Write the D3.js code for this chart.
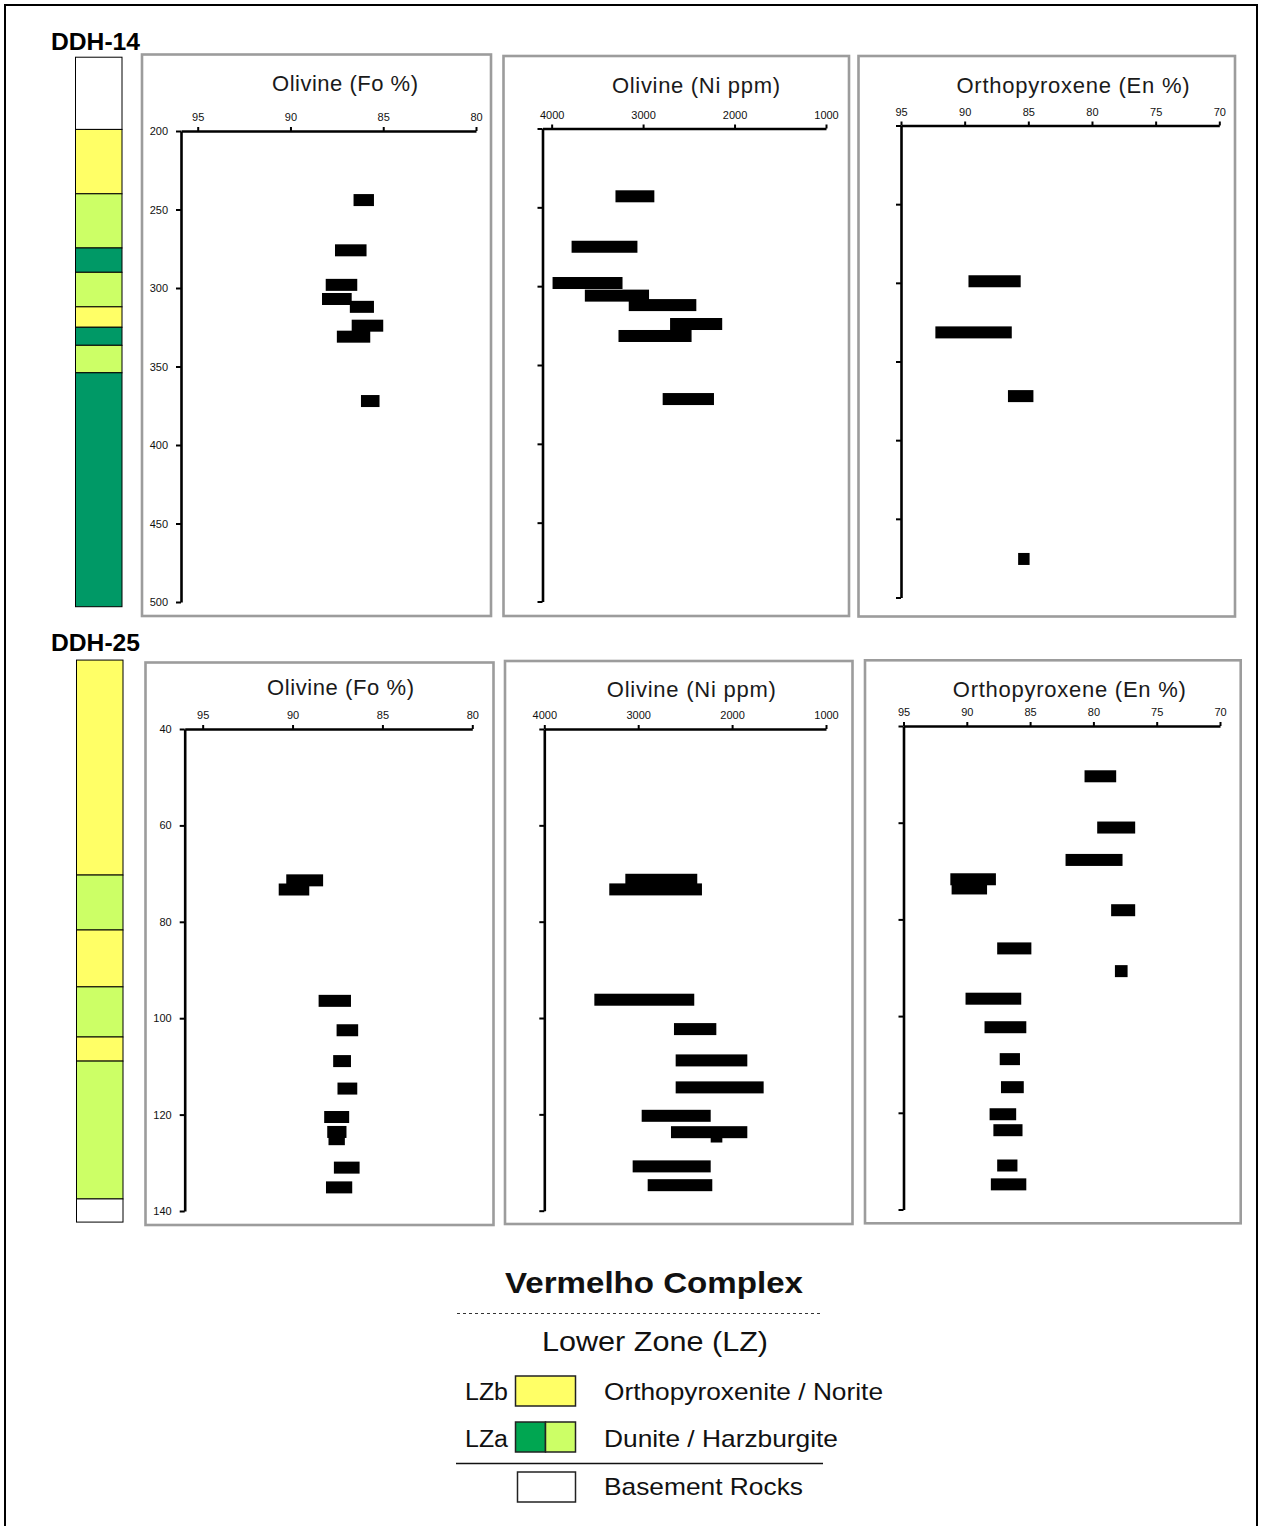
<!DOCTYPE html>
<html>
<head>
<meta charset="utf-8">
<script src="https://cdn.jsdelivr.net/npm/d3@7"></script>
<style>
  html, body { margin: 0; padding: 0; background: #fff; }
  svg { display: block; font-family: "Liberation Sans", Arial, sans-serif; }
</style>
</head>
<body>
<svg id="chart" width="1265" height="1526"></svg>
<script>
// ---------- tick values ----------
const foTicks = [95, 90, 85, 80];
const niTicks = [4000, 3000, 2000, 1000];
const enTicks = [95, 90, 85, 80, 75, 70];
const depthTicks14 = [200, 250, 300, 350, 400, 450, 500];
const depthTicks25 = [40, 60, 80, 100, 120, 140];

// ---------- DDH-14 compositional ranges (depth in m) ----------
const ddh14Fo = [
  { depth: 244, lo: 85.5, hi: 86.6 },
  { depth: 276, lo: 85.9, hi: 87.6 },
  { depth: 298, lo: 86.4, hi: 88.1 },
  { depth: 307, lo: 86.7, hi: 88.3 },
  { depth: 312, lo: 85.5, hi: 86.8 },
  { depth: 324, lo: 85.0, hi: 86.7 },
  { depth: 331, lo: 85.7, hi: 87.5 },
  { depth: 372, lo: 85.2, hi: 86.2 }
];
const ddh14Ni = [
  { depth: 243, lo: 2877, hi: 3302 },
  { depth: 275, lo: 3062, hi: 3782 },
  { depth: 298, lo: 3225, hi: 3990 },
  { depth: 306, lo: 2935, hi: 3637 },
  { depth: 312, lo: 2418, hi: 3157 },
  { depth: 324, lo: 2135, hi: 2705 },
  { depth: 331.6, lo: 2470, hi: 3269 },
  { depth: 371.6, lo: 2225, hi: 2786 }
];
const ddh14En = [
  { depth: 299, lo: 85.6, hi: 89.7 },
  { depth: 331.5, lo: 86.3, hi: 92.3 },
  { depth: 372, lo: 84.6, hi: 86.6 },
  { depth: 475.5, lo: 84.9, hi: 85.8 }
];

// ---------- DDH-25 compositional ranges (depth in m) ----------
const ddh25Fo = [
  { depth: 71.4, lo: 88.3, hi: 90.35 },
  { depth: 73.3, lo: 89.07, hi: 90.77 },
  { depth: 96.4, lo: 86.75, hi: 88.55 },
  { depth: 102.5, lo: 86.35, hi: 87.55 },
  { depth: 108.9, lo: 86.75, hi: 87.74 },
  { depth: 114.6, lo: 86.4, hi: 87.5 },
  { depth: 120.5, lo: 86.85, hi: 88.24 },
  { depth: 123.6, lo: 87.0, hi: 88.07 },
  { depth: 125.1, lo: 87.09, hi: 88.0 },
  { depth: 131.0, lo: 86.27, hi: 87.7 },
  { depth: 135.1, lo: 86.68, hi: 88.14 }
];
const ddh25Ni = [
  { depth: 71.3, lo: 2371, hi: 3137 },
  { depth: 73.3, lo: 2321, hi: 3308 },
  { depth: 96.2, lo: 2403, hi: 3467 },
  { depth: 102.3, lo: 2168, hi: 2619 },
  { depth: 108.8, lo: 1838, hi: 2601 },
  { depth: 114.4, lo: 1664, hi: 2601 },
  { depth: 120.3, lo: 2228, hi: 2963 },
  { depth: 124.6, lo: 2104, hi: 2228 },
  { depth: 123.7, lo: 1838, hi: 2651 },
  { depth: 130.8, lo: 2228, hi: 3059 },
  { depth: 134.7, lo: 2211, hi: 2899 }
];
const ddh25En = [
  { depth: 50.4, lo: 78.2, hi: 80.7 },
  { depth: 61.0, lo: 76.7, hi: 79.7 },
  { depth: 67.7, lo: 77.7, hi: 82.2 },
  { depth: 71.7, lo: 87.7, hi: 91.3 },
  { depth: 73.6, lo: 88.4, hi: 91.2 },
  { depth: 78.1, lo: 76.7, hi: 78.6 },
  { depth: 86.0, lo: 84.9, hi: 87.6 },
  { depth: 90.7, lo: 77.3, hi: 78.3 },
  { depth: 96.4, lo: 85.7, hi: 90.1 },
  { depth: 102.3, lo: 85.3, hi: 88.6 },
  { depth: 108.9, lo: 85.8, hi: 87.4 },
  { depth: 114.7, lo: 85.5, hi: 87.3 },
  { depth: 120.3, lo: 86.1, hi: 88.2 },
  { depth: 123.6, lo: 85.6, hi: 87.9 },
  { depth: 130.9, lo: 86.0, hi: 87.6 },
  { depth: 134.8, lo: 85.3, hi: 88.1 }
];

// ---------- stratigraphic logs (top / base depth in m) ----------
const strat14 = [
  { top: 153, base: 199, unit: "basement" },
  { top: 199, base: 240, unit: "lzb" },
  { top: 240, base: 274.5, unit: "harz" },
  { top: 274.5, base: 290, unit: "dunite" },
  { top: 290, base: 312, unit: "harz" },
  { top: 312, base: 325, unit: "lzb" },
  { top: 325, base: 336.5, unit: "dunite" },
  { top: 336.5, base: 354, unit: "harz" },
  { top: 354, base: 503, unit: "dunite" }
];
const strat25 = [
  { top: 25.7, base: 70.3, unit: "lzb" },
  { top: 70.3, base: 81.7, unit: "harz" },
  { top: 81.7, base: 93.5, unit: "lzb" },
  { top: 93.5, base: 103.9, unit: "harz" },
  { top: 103.9, base: 108.9, unit: "lzb" },
  { top: 108.9, base: 137.5, unit: "harz" },
  { top: 137.5, base: 142.3, unit: "basement" }
];

const unitColors = {
  lzb: "#FFFF66",
  harz: "#CCFF66",
  dunite: "#009966",
  basement: "#FFFFFF"
};

// ---------- layout ----------
const holes = [
  {
    name: "DDH-14", labelPos: [51, 50],
    column: { x: 75.5, w: 46.5 },
    depthDomain: [200, 500], depthTicks: depthTicks14,
    strat: strat14,
    panels: [
      { box: [142, 54.5, 349, 561.5], title: "Olivine (Fo %)", tx: 345, ty: 91, tw: 146,
        xDomain: [95.9, 80], xRange: [181, 476], yRange: [131, 602], xTicks: foTicks, data: ddh14Fo, yLabels: true },
      { box: [503.5, 56, 345.5, 560], title: "Olivine (Ni ppm)", tx: 696, ty: 92.5, tw: 168,
        xDomain: [4100, 1000], xRange: [542.5, 826], yRange: [128.5, 601.5], xTicks: niTicks, data: ddh14Ni },
      { box: [858.5, 56, 376.5, 560.5], title: "Orthopyroxene (En %)", tx: 1073, ty: 92.5, tw: 233,
        xDomain: [95, 70], xRange: [901, 1219.3], yRange: [125.5, 597.5], xTicks: enTicks, data: ddh14En }
    ]
  },
  {
    name: "DDH-25", labelPos: [51, 651],
    column: { x: 76.5, w: 46.5 },
    depthDomain: [40, 140], depthTicks: depthTicks25,
    strat: strat25,
    panels: [
      { box: [145.5, 662.5, 348, 562.5], title: "Olivine (Fo %)", tx: 340.5, ty: 694.5, tw: 147,
        xDomain: [96, 80], xRange: [184.7, 472.3], yRange: [729, 1211], xTicks: foTicks, data: ddh25Fo, yLabels: true },
      { box: [505, 661, 347.5, 563], title: "Olivine (Ni ppm)", tx: 691.3, ty: 697, tw: 169,
        xDomain: [4000, 1000], xRange: [544.3, 826], yRange: [729, 1210.7], xTicks: niTicks, data: ddh25Ni },
      { box: [865, 660.3, 375.7, 563], title: "Orthopyroxene (En %)", tx: 1069.3, ty: 697, tw: 233,
        xDomain: [95, 70], xRange: [903.5, 1220], yRange: [726, 1209.5], xTicks: enTicks, data: ddh25En }
    ]
  }
];

const BAR_H = 12;
const svg = d3.select("#chart");

// page frame
svg.append("rect")
  .attr("x", 5).attr("y", 5).attr("width", 1252).attr("height", 1540)
  .attr("fill", "#fff").attr("stroke", "#000").attr("stroke-width", 2);

holes.forEach(hole => {
  // hole name
  svg.append("text")
    .attr("x", hole.labelPos[0]).attr("y", hole.labelPos[1])
    .attr("font-size", 24).attr("font-weight", "bold").attr("fill", "#000")
    .attr("textLength", 89).attr("lengthAdjust", "spacingAndGlyphs")
    .text(hole.name);

  hole.panels.forEach((p, i) => {
    const g = svg.append("g");
    g.append("rect")
      .attr("x", p.box[0]).attr("y", p.box[1]).attr("width", p.box[2]).attr("height", p.box[3])
      .attr("fill", "#fff").attr("stroke", "#9c9c9c").attr("stroke-width", 2.6);

    g.append("text")
      .attr("x", p.tx).attr("y", p.ty)
      .attr("text-anchor", "middle")
      .attr("font-size", 22).attr("fill", "#1a1a1a")
      .attr("textLength", p.tw).attr("lengthAdjust", "spacing")
      .text(p.title);

    const x = d3.scaleLinear().domain(p.xDomain).range(p.xRange);
    const y = d3.scaleLinear().domain(hole.depthDomain).range(p.yRange);

    // bars: compositional range at each sampled depth
    g.append("g").selectAll("rect")
      .data(p.data)
      .join("rect")
      .attr("x", d => Math.min(x(d.lo), x(d.hi)))
      .attr("width", d => Math.abs(x(d.hi) - x(d.lo)))
      .attr("y", d => y(d.depth) - BAR_H / 2)
      .attr("height", BAR_H)
      .attr("fill", "#000");

    // top (composition) axis
    const xAxis = g.append("g")
      .attr("transform", `translate(0,${p.yRange[0]})`)
      .call(d3.axisTop(x).tickValues(p.xTicks).tickSize(4).tickSizeOuter(0).tickPadding(6)
        .tickFormat(d3.format("d")));
    xAxis.select(".domain").attr("stroke", "#000").attr("stroke-width", 2.6);
    xAxis.selectAll(".tick line").attr("stroke", "#000").attr("stroke-width", 2);
    xAxis.selectAll(".tick text").attr("font-size", 11).attr("fill", "#111")
      .attr("font-family", "\"Liberation Sans\", Arial, sans-serif");

    // left (depth) axis
    const yAxis = g.append("g")
      .attr("transform", `translate(${p.xRange[0]},0)`)
      .call(d3.axisLeft(y).tickValues(hole.depthTicks).tickSize(5).tickSizeOuter(0).tickPadding(8)
        .tickFormat(p.yLabels ? d3.format("d") : () => ""));
    yAxis.select(".domain").attr("stroke", "#000").attr("stroke-width", 2.6);
    yAxis.selectAll(".tick line").attr("stroke", "#000").attr("stroke-width", 2);
    yAxis.selectAll(".tick text").attr("font-size", 11).attr("fill", "#111")
      .attr("font-family", "\"Liberation Sans\", Arial, sans-serif");

    // stratigraphic log beside the first panel, on the same depth scale
    if (i === 0) {
      g.append("g").selectAll("rect")
        .data(hole.strat)
        .join("rect")
        .attr("x", hole.column.x)
        .attr("width", hole.column.w)
        .attr("y", d => y(d.top))
        .attr("height", d => y(d.base) - y(d.top))
        .attr("fill", d => unitColors[d.unit])
        .attr("stroke", "#000").attr("stroke-width", 1);
    }
  });
});

// ---------- legend ----------
const lg = svg.append("g").attr("fill", "#111");
lg.append("text").attr("x", 654).attr("y", 1293).attr("text-anchor", "middle")
  .attr("font-size", 30).attr("font-weight", "bold")
  .attr("textLength", 298).attr("lengthAdjust", "spacingAndGlyphs")
  .text("Vermelho Complex");
lg.append("line").attr("x1", 457).attr("x2", 822).attr("y1", 1313.5).attr("y2", 1313.5)
  .attr("stroke", "#333").attr("stroke-width", 1.2).attr("stroke-dasharray", "3,3");
lg.append("text").attr("x", 655).attr("y", 1351).attr("text-anchor", "middle")
  .attr("font-size", 27).attr("textLength", 226).attr("lengthAdjust", "spacingAndGlyphs")
  .text("Lower Zone (LZ)");

const legendRows = [
  { code: "LZb", label: "Orthopyroxenite / Norite", fills: [unitColors.lzb], y: 1376, base: 1400, lw: 279 },
  { code: "LZa", label: "Dunite / Harzburgite", fills: ["#00A651", unitColors.harz], y: 1422, base: 1447, lw: 234 },
  { code: "", label: "Basement Rocks", fills: [unitColors.basement], y: 1472, base: 1495, lw: 199 }
];
legendRows.forEach(r => {
  if (r.code) {
    lg.append("text").attr("x", 465).attr("y", r.base).attr("font-size", 23)
      .attr("textLength", 43).attr("lengthAdjust", "spacingAndGlyphs").text(r.code);
  }
  const bx = r.code ? 515.5 : 517.5, bw = r.code ? 60 : 58;
  const sw = bw / r.fills.length;
  r.fills.forEach((f, k) => {
    lg.append("rect").attr("x", bx + k * sw).attr("y", r.y).attr("width", sw).attr("height", 30)
      .attr("fill", f).attr("stroke", "#222").attr("stroke-width", 1.5);
  });
  lg.append("text").attr("x", 604).attr("y", r.base).attr("font-size", 24)
    .attr("textLength", r.lw).attr("lengthAdjust", "spacingAndGlyphs").text(r.label);
});
lg.append("line").attr("x1", 456).attr("x2", 823).attr("y1", 1463.5).attr("y2", 1463.5)
  .attr("stroke", "#111").attr("stroke-width", 1.5);
</script>
</body>
</html>
